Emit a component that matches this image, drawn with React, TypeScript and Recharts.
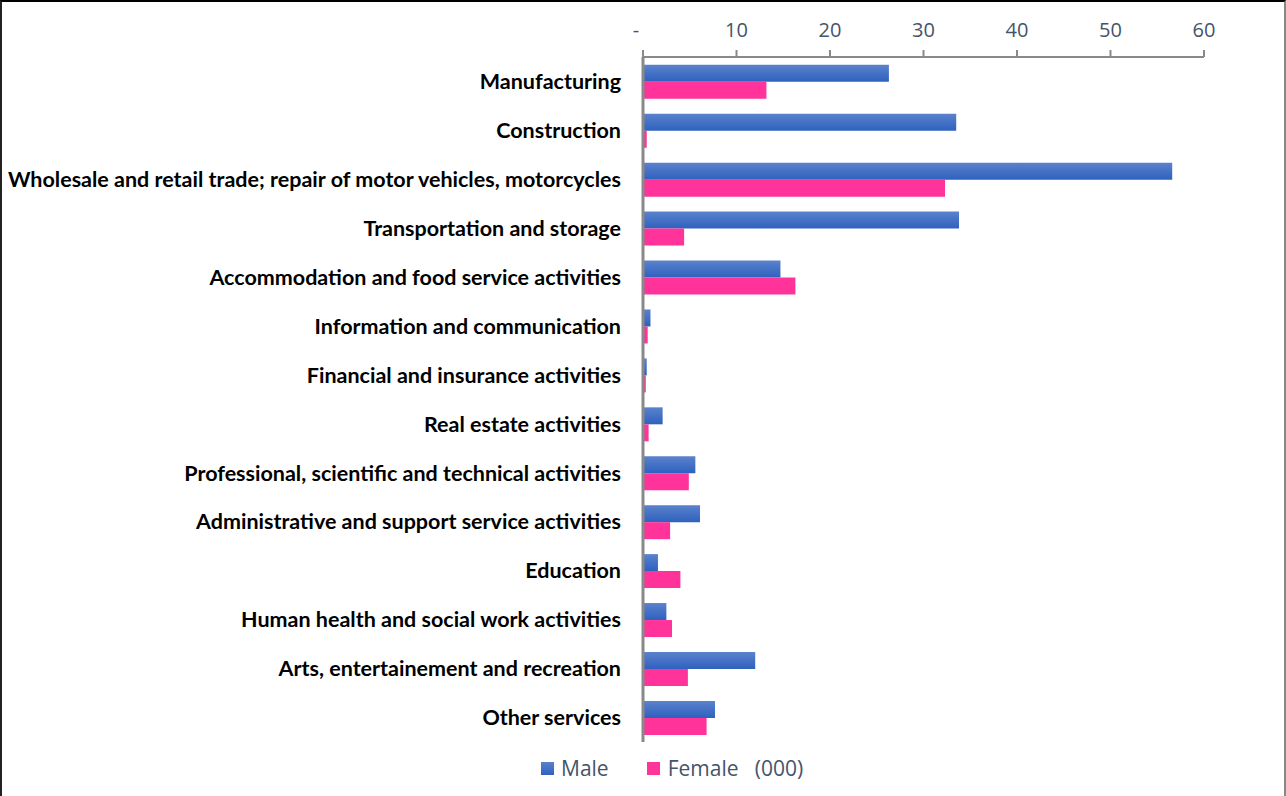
import React from 'react';
import { BarChart, Bar, XAxis, YAxis } from 'recharts';

const sectors = [
  'Manufacturing',
  'Construction',
  'Wholesale and retail trade; repair of motor vehicles, motorcycles',
  'Transportation and storage',
  'Accommodation and food service activities',
  'Information and communication',
  'Financial and insurance activities',
  'Real estate activities',
  'Professional, scientific and technical activities',
  'Administrative and support service activities',
  'Education',
  'Human health and social work activities',
  'Arts, entertainement and recreation',
  'Other services',
];

const male = [26.3, 33.5, 56.6, 33.8, 14.7, 0.8, 0.4, 2.1, 5.6, 6.1, 1.6, 2.5, 12.0, 7.7];
const female = [13.2, 0.4, 32.3, 4.4, 16.3, 0.5, 0.3, 0.6, 4.9, 2.9, 4.0, 3.1, 4.8, 6.8];

const xTicks = [0, 10, 20, 30, 40, 50, 60];

const data = sectors.map((sector, i) => ({ sector, male: male[i], female: female[i] }));

const axisColor = '#898989';
const textColor = '#44546A';

// Excel shows zero as a left-aligned dash
const TopTick = ({ x, y, payload }: any) => (
  <text
    x={payload.value === 0 ? x - 7 : x}
    y={y}
    dy={-11}
    textAnchor="middle"
    fill={textColor}
    fontSize={20}
    fontFamily='"Open Sans", sans-serif'
  >
    {payload.value === 0 ? '-' : payload.value}
  </text>
);

export default function App() {
  return (
    <div style={{ position: 'fixed', top: 0, left: 0, width: 1286, height: 796, background: '#fff' }}>
      <BarChart
        width={1286}
        height={796}
        data={data}
        layout="vertical"
        margin={{ top: 0, right: 82, bottom: 54, left: 0 }}
        barCategoryGap="16%"
        barGap={0}
      >
        <defs>
          <linearGradient id="maleFill" x1="0" y1="0" x2="0" y2="1">
            <stop offset="0%" stopColor="#5B82CC" />
            <stop offset="100%" stopColor="#2E61BF" />
          </linearGradient>
        </defs>
        <XAxis
          type="number"
          orientation="top"
          domain={[0, 60]}
          ticks={xTicks}
          height={57}
          tick={<TopTick />}
          axisLine={{ stroke: axisColor, strokeWidth: 2 }}
          tickLine={{ stroke: axisColor, strokeWidth: 2 }}
          tickSize={7}
        />
        <YAxis
          type="category"
          dataKey="sector"
          width={643}
          interval={0}
          tick={{ fill: '#000', fontSize: 21.5, fontWeight: 700, fontFamily: 'Lato, sans-serif' }}
          axisLine={{ stroke: axisColor, strokeWidth: 3 }}
          tickLine={false}
          tickMargin={16}
        />
        <Bar dataKey="male" name="Male" fill="url(#maleFill)" isAnimationActive={false} />
        <Bar dataKey="female" name="Female" fill="#FF3399" isAnimationActive={false} />
      </BarChart>
      <div
        style={{
          position: 'absolute',
          left: 541,
          top: 754,
          display: 'flex',
          alignItems: 'center',
          fontFamily: '"Open Sans", sans-serif',
          fontSize: 21,
          color: textColor,
        }}
      >
        <span style={{ width: 13, height: 13, background: 'linear-gradient(#5B80CB, #2F62C0)', marginRight: 7 }} />
        <span>Male</span>
        <span style={{ width: 13, height: 13, background: '#FF3399', marginLeft: 38, marginRight: 8 }} />
        <span style={{ whiteSpace: 'pre' }}>Female   (000)</span>
      </div>
      <div
        style={{
          position: 'absolute',
          inset: 0,
          borderTop: '2px solid #000',
          borderLeft: '2px solid #222',
          borderRight: '2px solid #888',
          boxSizing: 'border-box',
          pointerEvents: 'none',
        }}
      />
    </div>
  );
}
